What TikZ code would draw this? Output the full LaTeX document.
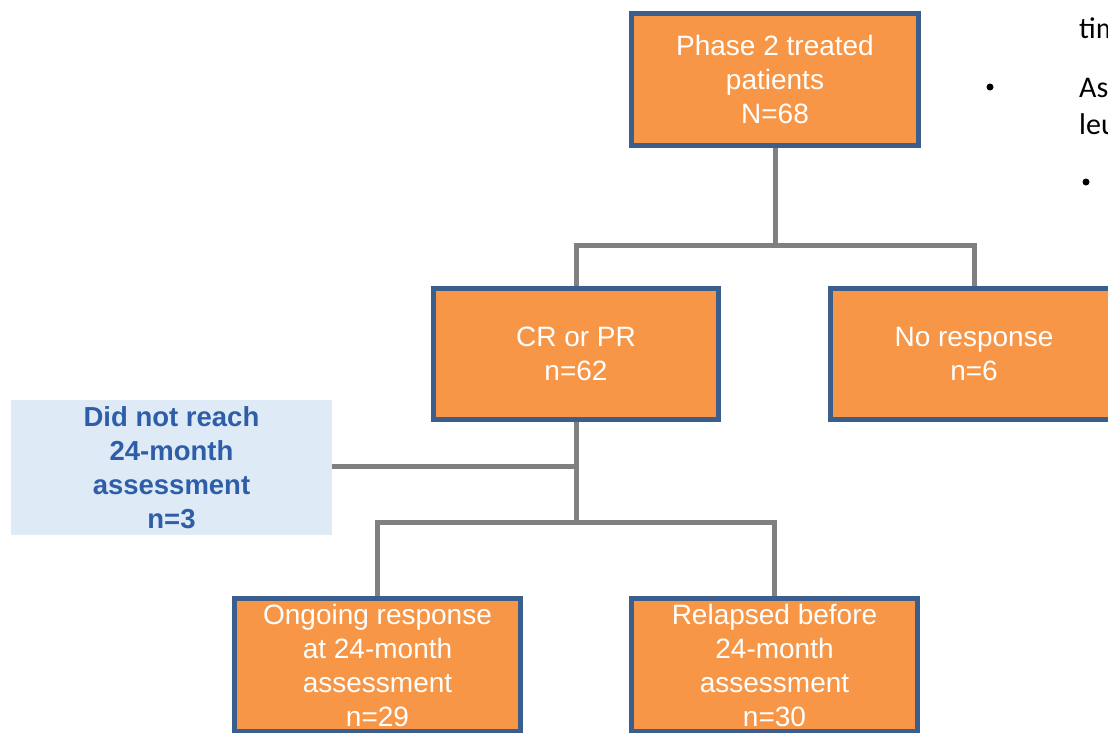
\documentclass[tikz,border=0pt]{standalone}
\usepackage{fontspec}
\setmainfont{Liberation Sans}
\newfontfamily\slidefont{Carlito}
\usetikzlibrary{positioning}
\definecolor{boxorange}{HTML}{F79646}
\definecolor{boxblue}{HTML}{3B5E8C}
\definecolor{linkgray}{HTML}{808080}
\definecolor{noteblue}{HTML}{DEEBF6}
\definecolor{notetext}{HTML}{2F5EA8}

\begin{document}
\begin{tikzpicture}[x=1pt,y=-1pt,
  armbox/.style={draw=boxblue, line width=5pt, fill=boxorange, text=white,
    align=center, inner sep=0pt, font=\fontsize{28}{34}\selectfont},
  notebox/.style={fill=noteblue, text=notetext, align=center, inner sep=0pt,
    font=\fontsize{27.5}{34}\selectfont\bfseries},
  slidetext/.style={anchor=base west, inner sep=0pt,
    font=\slidefont\fontsize{30}{37}\selectfont},
  link/.style={draw=linkgray, line width=5pt}]
\useasboundingbox (0,0) rectangle (1108,732);
% boxes
\node[armbox, minimum width=287pt, minimum height=132pt] (treated) at (775,79.5)
  {Phase 2 treated\\patients\\N=68};
\node[armbox, minimum width=285pt, minimum height=131pt] (resp) at (576,354)
  {CR or PR\\n=62};
\node[armbox, minimum width=287pt, minimum height=131pt] (noresp) at (974,354)
  {No response\\n=6};
\node[notebox, minimum width=321pt, minimum height=135pt] (notreach) at (171.5,467.5)
  {Did not reach\\24-month\\assessment\\n=3};
\node[armbox, minimum width=286pt, minimum height=133pt] (ongoing) at (377.5,665)
  {Ongoing response\\at 24-month\\assessment\\n=29};
\node[armbox, minimum width=286pt, minimum height=133pt] (relapsed) at (774.5,665)
  {Relapsed before\\24-month\\assessment\\n=30};
% junctions
\coordinate (split1) at (775,245);
\coordinate (split2) at (576,522);
\coordinate (side) at (576,466);
\draw[link] (treated) -- (split1);
\draw[link] (resp.north) |- (split1) -| (noresp.north);
\draw[link] (resp) -- (split2);
\draw[link] (notreach.east |- side) -- (side);
\draw[link] (ongoing.north) |- (split2) -| (relapsed.north);
% slide text cut off at the right
\node[slidetext] (txtA) at (1079,38) {tim};
\node[slidetext] (txtB) at (1079,97) {As};
\node[slidetext] (txtC) at (1079,134) {leu};
\fill (990,87) circle (3.5pt);
\fill (1086,182) circle (3.5pt);
\end{tikzpicture}
\end{document}
